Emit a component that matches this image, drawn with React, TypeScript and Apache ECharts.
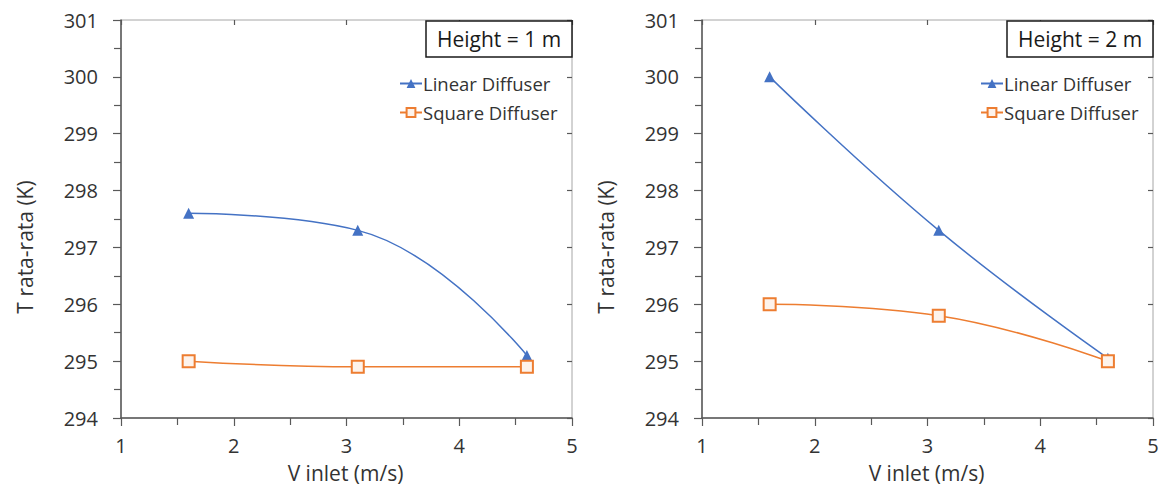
import React, { useEffect, useRef } from "react";
import * as echarts from "echarts";

const vInlet = [1.6, 3.1, 4.6];
const linearH1 = [297.6, 297.3, 295.1];
const squareH1 = [295.0, 294.9, 294.9];
const linearH2 = [300.0, 297.3, 295.05];
const squareH2 = [296.0, 295.8, 295.0];
const panelTitles = ["Height = 1 m", "Height = 2 m"];
const seriesNames = ["Linear Diffuser", "Square Diffuser"];
const xName = "V inlet (m/s)";
const yName = "T rata-rata (K)";

const BLUE = "#4472C4";
const ORANGE = "#ED7D31";
const TXT = "#333333";
const FONT = "Open Sans";

const GRID_LEFT = [121, 702];
const GRID_TOP = 20;
const GRID_W = 451;
const GRID_H = 398;

function pairs(xs: number[], ys: number[]) {
  return xs.map((x, i) => [x, ys[i]]);
}

export default function App() {
  const ref = useRef<HTMLDivElement>(null);
  useEffect(() => {
    if (!ref.current) return;
    const chart = echarts.init(ref.current, null, { renderer: "svg" });

    const grids = GRID_LEFT.map((l) => ({
      left: l,
      top: GRID_TOP,
      width: GRID_W,
      height: GRID_H,
      show: true,
      borderColor: "#a6a6a6",
      borderWidth: 1,
      backgroundColor: "transparent",
    }));

    const xAxes: any[] = [];
    const yAxes: any[] = [];
    [0, 1].forEach((g) => {
      xAxes.push({
        type: "value",
        gridIndex: g,
        min: 1,
        max: 5,
        interval: 1,
        axisLine: { show: true, onZero: false, lineStyle: { color: "#595959", width: 1.5 } },
        axisTick: { show: true, inside: false, length: 8, lineStyle: { color: "#595959", width: 1.2 } },
        minorTick: { show: true, splitNumber: 2, length: 7, lineStyle: { color: "#595959", width: 1.2 } },
        splitLine: { show: false },
        axisLabel: { color: TXT, fontSize: 20, fontFamily: FONT, margin: 17 },
      });
      yAxes.push({
        type: "value",
        gridIndex: g,
        min: 294,
        max: 301,
        interval: 1,
        axisLine: { show: true, onZero: false, lineStyle: { color: "#595959", width: 1.5 } },
        axisTick: { show: true, inside: false, length: 8, lineStyle: { color: "#595959", width: 1.2 } },
        minorTick: { show: true, splitNumber: 2, length: 7, lineStyle: { color: "#595959", width: 1.2 } },
        splitLine: { show: false },
        axisLabel: { color: TXT, fontSize: 20, fontFamily: FONT, margin: 23 },
      });
    });
    [0, 1].forEach((g) => {
      xAxes.push({
        type: "value",
        gridIndex: g,
        min: 1,
        max: 5,
        interval: 1,
        axisLine: { show: false, onZero: false },
        axisTick: { show: true, inside: true, length: 5, lineStyle: { color: "#595959", width: 1.2 } },
        splitLine: { show: false },
        axisLabel: { show: false },
      });
      yAxes.push({
        type: "value",
        gridIndex: g,
        min: 294,
        max: 301,
        interval: 1,
        axisLine: { show: false, onZero: false },
        axisTick: { show: true, inside: true, length: 5, lineStyle: { color: "#595959", width: 1.2 } },
        splitLine: { show: false },
        axisLabel: { show: false },
      });
    });

    const linearStyle = (data: number[][], g: number) => ({
      name: seriesNames[0],
      type: "line",
      xAxisIndex: g,
      yAxisIndex: g,
      data,
      smooth: 0.45,
      symbol: "triangle",
      symbolSize: 11,
      itemStyle: { color: BLUE },
      lineStyle: { color: BLUE, width: 1.5 },
      z: 3,
    });
    const squareStyle = (data: number[][], g: number) => ({
      name: seriesNames[1],
      type: "line",
      xAxisIndex: g,
      yAxisIndex: g,
      data,
      smooth: 0.45,
      symbol: "rect",
      symbolSize: 12,
      itemStyle: { color: "#fdf3ec", borderColor: ORANGE, borderWidth: 2 },
      lineStyle: { color: ORANGE, width: 1.5 },
      z: 4,
    });

    const legends = GRID_LEFT.map((l) => ({
      data: seriesNames,
      orient: "vertical",
      left: l + 273,
      top: 69,
      itemWidth: 22,
      itemHeight: 11,
      itemGap: 10,
      textStyle: { color: TXT, fontSize: 18.5, fontFamily: FONT, padding: [0, 0, 0, -4] },
      selectedMode: false,
    }));

    const graphics: any[] = [];
    GRID_LEFT.forEach((l, i) => {
      graphics.push({
        type: "rect",
        shape: { x: l + 305, y: 21, width: 146, height: 36 },
        style: { fill: "#fff", stroke: "#1a1a1a", lineWidth: 1.5 },
        z: 10,
      });
      graphics.push({
        type: "text",
        x: l + 378,
        y: 39,
        style: {
          text: panelTitles[i],
          fill: "#1a1a1a",
          fontSize: 21,
          fontFamily: FONT,
          align: "center",
          verticalAlign: "middle",
        },
        z: 11,
      });
      graphics.push({
        type: "text",
        x: l + GRID_W / 2 - 1,
        y: 473,
        style: {
          text: xName,
          fill: TXT,
          fontSize: 21,
          fontFamily: FONT,
          align: "center",
          verticalAlign: "middle",
        },
      });
      graphics.push({
        type: "text",
        x: l - 96,
        y: 247,
        rotation: Math.PI / 2,
        style: {
          text: yName,
          fill: TXT,
          fontSize: 21,
          fontFamily: FONT,
          align: "center",
          verticalAlign: "middle",
        },
      });
    });

    chart.setOption({
      animation: false,
      backgroundColor: "#fff",
      grid: grids,
      xAxis: xAxes,
      yAxis: yAxes,
      legend: legends,
      graphic: graphics,
      series: [
        linearStyle(pairs(vInlet, linearH1), 0),
        squareStyle(pairs(vInlet, squareH1), 0),
        linearStyle(pairs(vInlet, linearH2), 1),
        squareStyle(pairs(vInlet, squareH2), 1),
      ],
    });
    return () => chart.dispose();
  }, []);
  return (
    <div
      ref={ref}
      style={{ position: "absolute", left: 0, top: 0, width: 1162, height: 494 }}
    />
  );
}
